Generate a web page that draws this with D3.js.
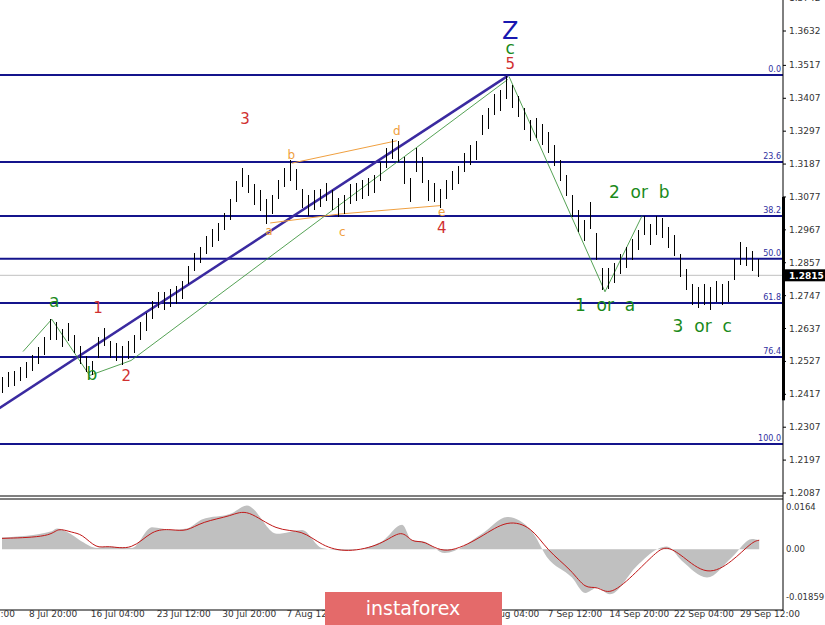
<!DOCTYPE html>
<html>
<head>
<meta charset="utf-8">
<script src="https://cdn.jsdelivr.net/npm/d3@7"></script>
<style>
  body { margin: 0; background: #fff; }
  text { font-family: "DejaVu Sans", sans-serif; white-space: pre; }
</style>
</head>
<body>
<script>
// bar highs / lows, one bar per index
var highs = [1.2475,1.2490,1.2495,1.2510,1.2525,1.2550,1.2575,1.2610,1.2668,1.2660,1.2635,1.2655,1.2615,1.2580,1.2545,1.2530,1.2610,1.2640,1.2595,1.2590,
  1.2580,1.2595,1.2615,1.2660,1.2690,1.2730,1.2760,1.2760,1.2770,1.2780,1.2795,1.2845,1.2890,1.2910,1.2945,1.2970,1.2990,1.3025,1.3070,1.3130,
  1.3175,1.3150,1.3120,1.3100,1.3070,1.3085,1.3135,1.3175,1.3200,1.3170,1.3105,1.3085,1.3100,1.3105,1.3125,1.3100,1.3075,1.3085,1.3120,1.3125,
  1.3135,1.3140,1.3150,1.3195,1.3240,1.3270,1.3265,1.3210,1.3140,1.3240,1.3210,1.3135,1.3125,1.3105,1.3135,1.3165,1.3180,1.3225,1.3250,1.3265,
  1.3350,1.3375,1.3420,1.3435,1.3480,1.3450,1.3415,1.3375,1.3335,1.3340,1.3320,1.3295,1.3250,1.3200,1.3150,1.3085,1.3035,1.3000,1.3060,1.2955,
  1.2840,1.2840,1.2855,1.2885,1.2910,1.2935,1.2965,1.3015,1.2985,1.3015,1.3005,1.2975,1.2950,1.2885,1.2835,1.2785,1.2775,1.2785,1.2775,1.2795,
  1.2785,1.2795,1.2870,1.2925,1.2910,1.2895,1.2870];
var lows = [1.2422,1.2440,1.2445,1.2460,1.2470,1.2495,1.2520,1.2550,1.2600,1.2600,1.2575,1.2595,1.2555,1.2520,1.2490,1.2480,1.2540,1.2580,1.2540,1.2530,
  1.2515,1.2535,1.2555,1.2600,1.2630,1.2670,1.2705,1.2700,1.2710,1.2720,1.2735,1.2785,1.2830,1.2855,1.2885,1.2910,1.2930,1.2965,1.3000,1.3060,
  1.3110,1.3090,1.3050,1.3030,1.2985,1.3020,1.3070,1.3110,1.3130,1.3100,1.3040,1.3015,1.3035,1.3045,1.3065,1.3035,1.3010,1.3020,1.3055,1.3065,
  1.3070,1.3080,1.3090,1.3130,1.3175,1.3205,1.3195,1.3120,1.3060,1.3160,1.3125,1.3065,1.3060,1.3040,1.3070,1.3100,1.3120,1.3160,1.3185,1.3200,
  1.3285,1.3305,1.3350,1.3365,1.3405,1.3375,1.3345,1.3300,1.3265,1.3275,1.3250,1.3225,1.3180,1.3130,1.3080,1.3010,1.2960,1.2930,1.2970,1.2865,
  1.2765,1.2770,1.2790,1.2820,1.2840,1.2865,1.2900,1.2950,1.2915,1.2950,1.2940,1.2905,1.2880,1.2810,1.2765,1.2715,1.2705,1.2715,1.2700,1.2725,
  1.2715,1.2725,1.2800,1.2850,1.2845,1.2830,1.2810];

var priceTicks = [1.3742,1.3632,1.3517,1.3407,1.3297,1.3187,1.3077,1.2967,1.2857,1.2747,1.2637,1.2527,1.2417,1.2307,1.2197,1.2087];
var fibLevels = ["0.0","23.6","38.2","50.0","61.8","76.4","100.0"];
var fibPrices = [1.3485,1.3194,1.3013,1.2870,1.2722,1.2542,1.2251];
var lastPrice = 1.2815;

var timeLabels = ["12:00","8 Jul 20:00","16 Jul 04:00","23 Jul 12:00","30 Jul 20:00","7 Aug 12:00","14 Aug 20:00","23 Aug 04:00","31 Aug 04:00","7 Sep 12:00","14 Sep 20:00","22 Sep 04:00","29 Sep 12:00"];
var timeIdx = [0,8.5,19.3,30.3,41.2,52,62.8,73.5,84.5,95.5,106.2,117,128];

// MACD
var macdIdx = [0,8.3,9.2,11.7,13.3,15.8,17.5,21.7,25,28.3,30.8,33.3,38.3,40.8,45.8,50,53.3,57.5,63.3,66.7,68.3,70.3,73.8,80,84.2,88.3,90.8,95,97.2,99.2,101.3,105.8,109.2,110.8,113.3,117.5,121.7,125,126.2];
var macdSignal = [0.0042,0.0048,0.0085,0.0064,0.0060,0.0000,0.0016,-0.0007,0.0077,0.0077,0.0068,0.0107,0.0129,0.0159,0.0068,0.0077,0.0012,-0.0014,0.0016,0.0081,0.0022,0.0038,-0.0027,0.0048,0.0116,0.0087,-0.0004,-0.0082,-0.0157,-0.0141,-0.0185,-0.0088,-0.0007,0.0012,-0.0023,-0.0108,-0.0049,0.0029,0.0035];
var macdHist = [0.0045,0.0070,0.0080,0.0055,0.0030,0.0005,0.0010,0.0005,0.0085,0.0075,0.0080,0.0115,0.0140,0.0170,0.0060,0.0075,0.0005,-0.0005,0.0030,0.0095,0.0035,0.0030,-0.0015,0.0060,0.0125,0.0070,-0.0030,-0.0110,-0.0170,-0.0150,-0.0175,-0.0065,0.0000,0.0010,-0.0045,-0.0110,-0.0030,0.0040,0.0035];
var macdTicks = [0.0164,0.00,-0.01859];

// wave labels: [text, bar index, price, colour, size]
var waveLabels = [
  ["Z",84.7,1.3605,"#1818b0",24],["c",84.7,1.3555,"#1a8a1a",17],["5",84.7,1.3505,"#d03030",15],
  ["3",40.5,1.3320,"#d03030",15],["1",16,1.2690,"#d03030",15],["2",20.7,1.2460,"#d03030",15],
  ["4",73.3,1.2955,"#d03030",15],["a",8.7,1.2710,"#1a8a1a",17],["b",15,1.2465,"#1a8a1a",17],
  ["b",48.2,1.3205,"#f0a040",12],["d",65.8,1.3285,"#f0a040",12],["a",44.5,1.2950,"#f0a040",12],
  ["c",56.7,1.2945,"#f0a040",12],["e",73.3,1.3015,"#f0a040",12],
  ["2  or  b",106.2,1.3075,"#1a8a1a",17],["1  or  a",100.5,1.2695,"#1a8a1a",17],["3  or  c",116.7,1.2625,"#1a8a1a",17]
];

var W = 825, H = 625, plotRight = 783;
var x = d3.scaleLinear().domain([0, 126]).range([2, 758]);
var y = d3.scaleLinear().domain([1.2087, 1.3632]).range([493, 31]);
var ym = d3.scaleLinear().domain([-0.01859, 0.0164]).range([597, 507]);

var svg = d3.select("body").append("svg").attr("width", W).attr("height", H);

// fib lines
svg.selectAll(".fib").data(fibPrices).enter().append("line")
  .attr("x1", 0).attr("x2", plotRight)
  .attr("y1", function(d){ return y(d); }).attr("y2", function(d){ return y(d); })
  .attr("stroke", "#14148c").attr("stroke-width", 2);
svg.selectAll(".fibt").data(fibLevels).enter().append("text")
  .attr("x", plotRight - 2).attr("y", function(d, i){ return y(fibPrices[i]) - 3; })
  .attr("text-anchor", "end").attr("font-size", 8).attr("fill", "#3030a0")
  .text(function(d){ return d; });

// current price line
svg.append("line").attr("x1", 0).attr("x2", plotRight).attr("y1", y(lastPrice)).attr("y2", y(lastPrice))
  .attr("stroke", "#c0c0c0").attr("stroke-width", 1);

// wave lines
function pt(i, p){ return [x(i), y(p)]; }
var line = d3.line();
svg.append("path").attr("d", line([pt(-0.5,1.2370), pt(84.3,1.3482)]))
  .attr("stroke", "#3a2aa0").attr("stroke-width", 2.5).attr("fill", "none");
var green = [
  [pt(3.5,1.2560), pt(8.3,1.2668), pt(14.6,1.2480), pt(21.5,1.2530), pt(84.3,1.3470)],
  [pt(84.5,1.3480), pt(100.5,1.2760), pt(106.7,1.3015)]
];
green.forEach(function(g){
  svg.append("path").attr("d", line(g)).attr("stroke", "#2a8a2a").attr("stroke-width", 0.8).attr("fill", "none");
});
var orange = [
  [pt(48.3,1.3190), pt(65.8,1.3265)],
  [pt(44.7,1.2990), pt(56.3,1.3020), pt(73,1.3048)]
];
orange.forEach(function(g){
  svg.append("path").attr("d", line(g)).attr("stroke", "#f0a040").attr("stroke-width", 1).attr("fill", "none");
});

// bars
svg.selectAll(".bar").data(highs).enter().append("line")
  .attr("x1", function(d, i){ return Math.round(x(i)) + 0.5; }).attr("x2", function(d, i){ return Math.round(x(i)) + 0.5; })
  .attr("y1", function(d){ return y(d); }).attr("y2", function(d, i){ return y(lows[i]); })
  .attr("stroke", "#000").attr("stroke-width", 1).attr("shape-rendering", "crispEdges");

// wave labels
svg.selectAll(".wl").data(waveLabels).enter().append("text")
  .attr("x", function(d){ return x(d[1]); }).attr("y", function(d){ return y(d[2]); })
  .attr("text-anchor", "middle").attr("fill", function(d){ return d[3]; })
  .attr("font-size", function(d){ return d[4]; })
  .attr("font-family", "Liberation Sans, sans-serif")
  .text(function(d){ return d[0]; });

// right axis
svg.append("line").attr("x1", plotRight).attr("x2", plotRight).attr("y1", 0).attr("y2", H - 14).attr("stroke", "#000");
svg.selectAll(".pt").data(priceTicks).enter().append("text")
  .attr("x", plotRight + 6).attr("y", function(d){ return y(d) + 3; })
  .attr("font-size", 9).attr("fill", "#333")
  .text(function(d){ return d.toFixed(4); });
svg.selectAll(".ptk").data(priceTicks).enter().append("line")
  .attr("x1", plotRight).attr("x2", plotRight + 3)
  .attr("y1", function(d){ return y(d); }).attr("y2", function(d){ return y(d); }).attr("stroke", "#000");
svg.append("rect").attr("x", plotRight - 1).attr("y", y(1.3077)).attr("width", 3)
  .attr("height", y(1.2417) - y(1.3077) + 6).attr("fill", "#000");
svg.append("rect").attr("x", plotRight + 1).attr("y", y(lastPrice) - 6).attr("width", 42).attr("height", 12).attr("fill", "#000");
svg.append("text").attr("x", plotRight + 6).attr("y", y(lastPrice) + 4).attr("font-size", 9)
  .attr("fill", "#fff").attr("font-weight", "bold").text(lastPrice.toFixed(4));

// panel separator
[496, 499].forEach(function(v){
  svg.append("line").attr("x1", 0).attr("x2", plotRight).attr("y1", v).attr("y2", v).attr("stroke", "#000");
});
svg.append("line").attr("x1", 0).attr("x2", plotRight).attr("y1", 610).attr("y2", 610).attr("stroke", "#000");

// MACD
var pts = macdIdx.map(function(d, i){ return {i: d, h: macdHist[i], s: macdSignal[i]}; });
svg.append("path").datum(pts)
  .attr("d", d3.area().curve(d3.curveMonotoneX)
    .x(function(d){ return x(d.i); }).y0(ym(0)).y1(function(d){ return ym(d.h); }))
  .attr("fill", "#c0c0c0");
svg.append("path").datum(pts)
  .attr("d", d3.line().curve(d3.curveBasis)
    .x(function(d){ return x(d.i); }).y(function(d){ return ym(d.s); }))
  .attr("fill", "none").attr("stroke", "#c01818").attr("stroke-width", 1);
svg.selectAll(".mt").data(macdTicks).enter().append("text")
  .attr("x", plotRight + 3).attr("y", function(d){ return ym(d) + 3; })
  .attr("font-size", 8.5).attr("fill", "#333")
  .text(function(d){ return d == 0 ? "0.00" : d; });

// time axis
svg.selectAll(".tl").data(timeLabels).enter().append("text")
  .attr("x", function(d, i){ return x(timeIdx[i]); }).attr("y", 617)
  .attr("text-anchor", "middle").attr("font-size", 9).attr("fill", "#333")
  .text(function(d){ return d; });

// logo
svg.append("rect").attr("x", 325).attr("y", 592).attr("width", 177).attr("height", 33).attr("fill", "#e46a6a");
svg.append("text").attr("x", 413).attr("y", 615).attr("text-anchor", "middle")
  .attr("font-size", 19).attr("fill", "#fff").attr("font-family", "Liberation Sans, sans-serif").text("instaforex");
</script>
</body>
</html>
